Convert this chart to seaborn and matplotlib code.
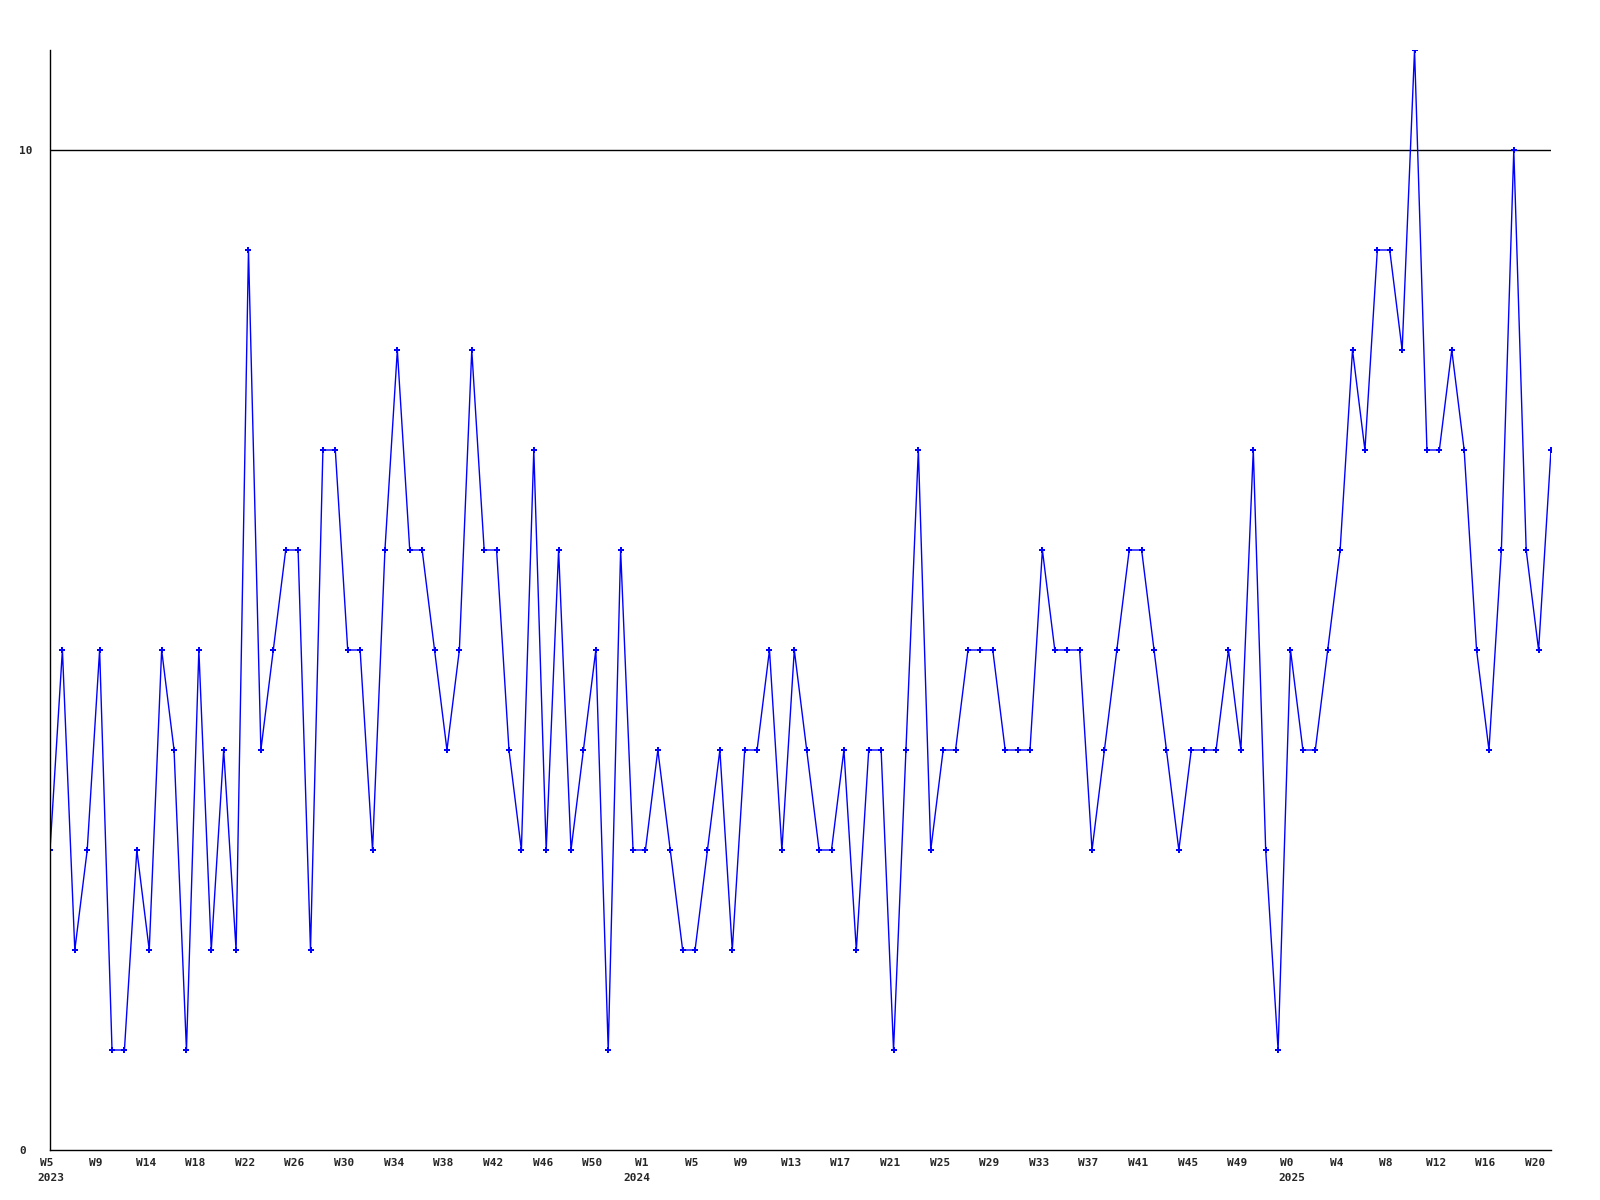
import matplotlib
matplotlib.use("Agg")
import matplotlib.pyplot as plt
import matplotlib.transforms as mtransforms
import seaborn as sns
import pandas as pd
import numpy as np

# weekly values, 2023 W5 .. 2025 W21
values = [
    3, 5, 2, 3, 5, 1, 1, 3, 2, 5, 4, 1, 5, 2, 4, 2, 9, 4, 5, 6, 6,
    2, 7, 7, 5, 5, 3, 6, 8, 6, 6, 5, 4, 5, 8, 6, 6, 4, 3, 7, 3,
    6, 3, 4, 5, 1, 6, 3, 3, 4, 3, 2, 2, 3, 4, 2, 4, 4, 5, 3, 5,
    4, 3, 3, 4, 2, 4, 4, 1, 4, 7, 3, 4, 4, 5, 5, 5, 4, 4, 4, 6,
    5, 5, 5, 3, 4, 5, 6, 6, 5, 4, 3, 4, 4, 4, 5, 4, 7, 3, 1, 5, 4,
    4, 5, 6, 8, 7, 9, 9, 8, 11, 7, 7, 8, 7, 5, 4, 6, 10, 6, 5, 7,
]

week_labels = [
    "W5", "W9", "W14", "W18", "W22", "W26", "W30", "W34", "W38", "W42", "W46", "W50",
    "W1", "W5", "W9", "W13", "W17", "W21", "W25", "W29", "W33", "W37", "W41", "W45", "W49",
    "W0", "W4", "W8", "W12", "W16", "W20",
]
year_labels = {0: "2023", 12: "2024", 25: "2025"}
label_step = 4

y_ticks = [0, 10]
y_max = 11

df = pd.DataFrame({"idx": np.arange(len(values)), "value": values})

sns.set_style("white")
plt.rcParams["font.family"] = ["DejaVu Sans Mono", "DejaVu Sans"]

fig = plt.figure(figsize=(16, 12), dpi=100)
ax = fig.add_axes([50 / 1600, 50 / 1200, 1501 / 1600, 1100 / 1200])

sns.lineplot(data=df, x="idx", y="value", ax=ax, color="#0000ff", linewidth=1.0,
             marker="P", markersize=4.5, markeredgewidth=0, markerfacecolor="#0000ff")

ax.set_xlim(0, len(values) - 1)
ax.set_ylim(0, y_max)

ax.axhline(10, color="black", linewidth=1.0, zorder=0)

tick_pos = [i * label_step for i in range(len(week_labels))]
ax.set_xticks(tick_pos)
ax.set_xticklabels(week_labels, fontsize=8, fontweight="bold", ha="center")
ax.set_yticks(y_ticks)
ax.set_yticklabels([str(v) for v in y_ticks], fontsize=8, fontweight="bold", ha="left")

ax.tick_params(axis="x", length=0, pad=6)
ax.tick_params(axis="y", length=0, pad=22)

shift = mtransforms.ScaledTranslation(-3.5 / 100, 0, fig.dpi_scale_trans)
for lbl in ax.get_xticklabels():
    lbl.set_transform(lbl.get_transform() + shift)

# year labels below the first week of each year
for i, yr in year_labels.items():
    wl = week_labels[i]
    if yr == "2024":
        ax.annotate(yr, xy=(tick_pos[i], 0), xycoords="data",
                    xytext=(-6.5, -16.5), textcoords="offset points",
                    ha="center", va="top", fontsize=8, fontweight="bold",
                    annotation_clip=False)
    else:
        ax.annotate(yr, xy=(tick_pos[i], 0), xycoords="data",
                    xytext=(-2.4 * len(wl) - 4.0, -16.5), textcoords="offset points",
                    ha="left", va="top", fontsize=8, fontweight="bold",
                    annotation_clip=False)

ax.set_xlabel("")
ax.set_ylabel("")
for side in ["top", "right"]:
    ax.spines[side].set_visible(False)
for side in ["left", "bottom"]:
    ax.spines[side].set_color("black")
    ax.spines[side].set_linewidth(1.0)
ax.grid(False)

fig.savefig("out.png", dpi=100, facecolor="white")
